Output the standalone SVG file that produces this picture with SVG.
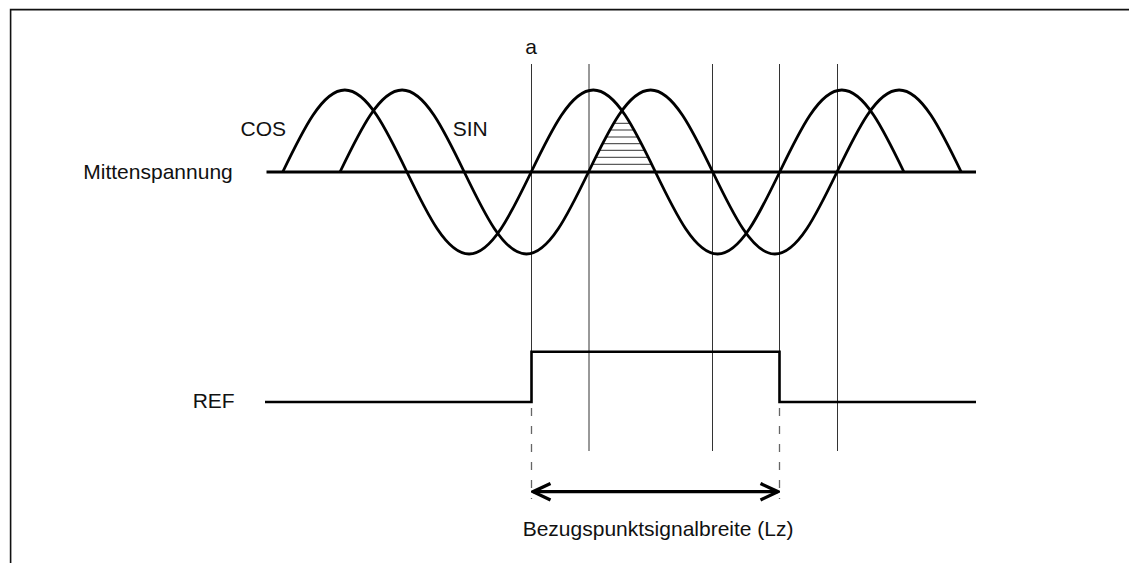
<svg xmlns="http://www.w3.org/2000/svg" width="1129" height="563" viewBox="0 0 1129 563">
<style>
.lbl{font-family:"Liberation Sans",Arial,sans-serif;font-size:21px;fill:#111}
.wave{fill:none;stroke:#000;stroke-width:2.8;stroke-linejoin:round}
.grid{fill:none;stroke:#333;stroke-width:1}
.hatch{fill:none;stroke:#333;stroke-width:1}
.dash{fill:none;stroke:#666;stroke-width:1.3;stroke-dasharray:8 10}
</style>
<defs>
<marker id="chev" viewBox="-20 -10 22 20" refX="0" refY="0" markerWidth="22" markerHeight="20" markerUnits="userSpaceOnUse" orient="auto-start-reverse">
<path d="M-17.5,-8.2 L0,0 L-17.5,8.2" fill="none" stroke="#000" stroke-width="3.3"/>
</marker>
</defs>
<rect width="1129" height="563" fill="#fff"/>
<path id="frame" d="M10.6,563 V9.6 H1129" fill="none" stroke="#111" stroke-width="1.6"/>
<g id="gridlines">
<line class="grid" x1="531.5" y1="64" x2="531.5" y2="352"/>
<line class="grid" x1="589" y1="64" x2="589" y2="451"/>
<line class="grid" x1="712.5" y1="64" x2="712.5" y2="451"/>
<line class="grid" x1="779.5" y1="64" x2="779.5" y2="352"/>
<line class="grid" x1="837.5" y1="64" x2="837.5" y2="451"/>
</g>
<g id="hatching">
<line class="hatch" x1="613.7" y1="123.3" x2="630.3" y2="123.3"/>
<line class="hatch" x1="609.8" y1="130" x2="634.2" y2="130"/>
<line class="hatch" x1="605.9" y1="137" x2="638" y2="137"/>
<line class="hatch" x1="602.4" y1="143.7" x2="641.5" y2="143.7"/>
<line class="hatch" x1="599.1" y1="150.3" x2="644.9" y2="150.3"/>
<line class="hatch" x1="595.6" y1="157.3" x2="648.3" y2="157.3"/>
<line class="hatch" x1="592.2" y1="164.3" x2="651.7" y2="164.3"/>
</g>
<g id="midline">
<line x1="266.5" y1="172" x2="976" y2="172" stroke="#000" stroke-width="2.8"/>
<text class="lbl" x="83.3" y="179.3">Mittenspannung</text>
</g>
<g id="cos">
<path class="wave" d="M282.7,172 c20.26,-42 39.64,-82 62.125,-82 c22.49,0 41.86,40 62.125,82 c20.26,42 39.64,82 62.125,82 c22.49,0 41.86,-40 62.125,-82 c20.26,-42 39.64,-82 62.125,-82 c22.49,0 41.86,40 62.125,82 c20.26,42 39.64,82 62.125,82 c22.49,0 41.86,-40 62.125,-82 c20.26,-42 39.64,-82 62.125,-82 c22.49,0 41.86,40 62.125,82"/>
<text class="lbl" x="286" y="135.7" text-anchor="end">COS</text>
</g>
<g id="sin">
<path class="wave" d="M340,172 c20.26,-42 39.64,-82 62.125,-82 c22.49,0 41.86,40 62.125,82 c20.26,42 39.64,82 62.125,82 c22.49,0 41.86,-40 62.125,-82 c20.26,-42 39.64,-82 62.125,-82 c22.49,0 41.86,40 62.125,82 c20.26,42 39.64,82 62.125,82 c22.49,0 41.86,-40 62.125,-82 c20.26,-42 39.64,-82 62.125,-82 c22.49,0 41.86,40 62.125,82"/>
<text class="lbl" x="452.7" y="135.7">SIN</text>
</g>
<g id="marker-a">
<text class="lbl" x="531" y="53.5" text-anchor="middle">a</text>
</g>
<g id="ref">
<path d="M265,402 H531.5 V351.7 H779.5 V402 H976" fill="none" stroke="#000" stroke-width="2.6"/>
<text class="lbl" x="192.7" y="407.7">REF</text>
</g>
<g id="connectors">
<line class="dash" x1="531.5" y1="408" x2="531.5" y2="499"/>
<line class="dash" x1="779.5" y1="408" x2="779.5" y2="499"/>
<line x1="533" y1="491.7" x2="778" y2="491.7" stroke="#000" stroke-width="3.3" marker-start="url(#chev)" marker-end="url(#chev)"/>
</g>
<g id="width-label">
<text class="lbl" x="522.7" y="535.7">Bezugspunktsignalbreite (Lz)</text>
</g>
</svg>
